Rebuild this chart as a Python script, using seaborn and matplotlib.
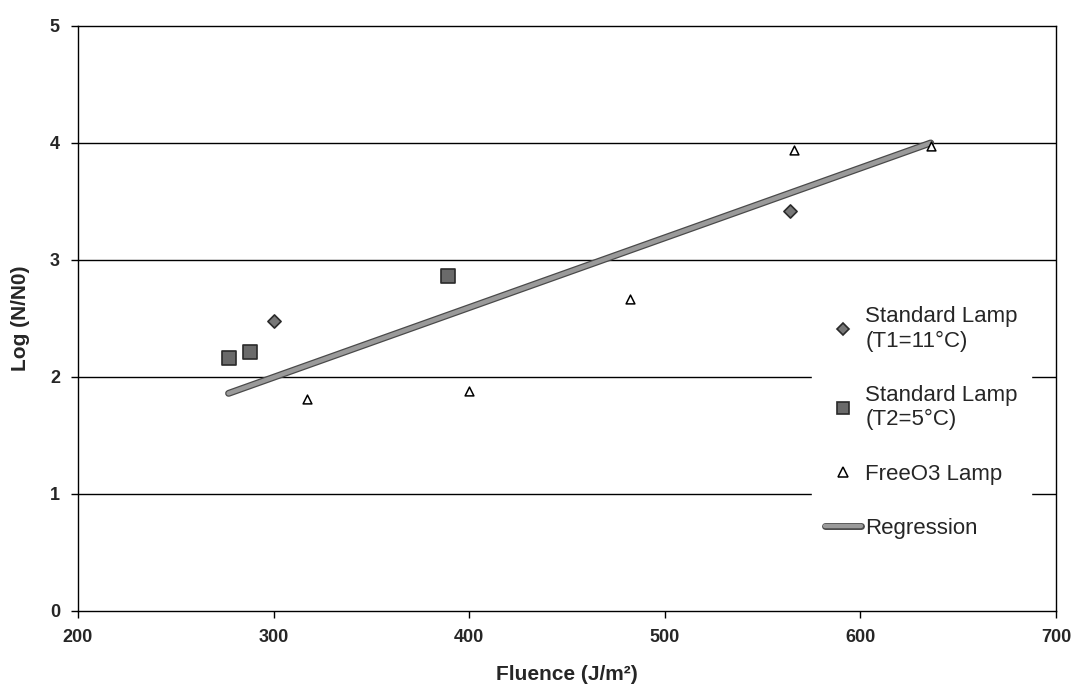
import matplotlib
matplotlib.use("Agg")
import matplotlib.pyplot as plt
import matplotlib.patheffects as pe
from matplotlib.lines import Line2D
import seaborn as sns
import pandas as pd

# Inactivation data: log reduction versus UV fluence
std_t1_fluence = [300, 564]
std_t1_logred = [2.48, 3.42]

std_t2_fluence = [277, 288, 389]
std_t2_logred = [2.16, 2.21, 2.86]

free_o3_fluence = [317, 400, 482, 566, 636]
free_o3_logred = [1.81, 1.88, 2.67, 3.94, 3.97]

# Fitted regression line (end points)
reg_fluence = [277, 636]
reg_logred = [1.86, 4.00]

x_ticks = [200, 300, 400, 500, 600, 700]
y_ticks = [0, 1, 2, 3, 4, 5]

sns.set_style("ticks")
plt.rcParams["font.family"] = ["Liberation Sans", "DejaVu Sans"]

fig = plt.figure(figsize=(10.77, 6.94), dpi=100)
ax = fig.add_axes([0.0724, 0.1196, 0.908, 0.843])

# horizontal gridlines
for yv in y_ticks[1:-1]:
    ax.axhline(yv, color="black", lw=1.0, zorder=1)

reg_effects = [pe.Stroke(linewidth=5, foreground="#4a4a4a"), pe.Normal()]
reg_df = pd.DataFrame({"x": reg_fluence, "y": reg_logred})
sns.lineplot(data=reg_df, x="x", y="y", ax=ax, color="#9a9a9a", lw=3.2,
             zorder=3, legend=False, path_effects=reg_effects)

sns.scatterplot(x=std_t1_fluence, y=std_t1_logred, ax=ax, marker="D", s=45,
                color="#777777", edgecolor="#2a2a2a", linewidth=1.2, zorder=4)
sns.scatterplot(x=std_t2_fluence, y=std_t2_logred, ax=ax, marker="s", s=90,
                color="#6a6a6a", edgecolor="#2a2a2a", linewidth=1.2, zorder=4)
sns.scatterplot(x=free_o3_fluence, y=free_o3_logred, ax=ax, marker="^", s=40,
                color="white", edgecolor="black", linewidth=1.1, zorder=4)

ax.set_xlim(200, 700)
ax.set_ylim(0, 5)
ax.set_xticks(x_ticks)
ax.set_yticks(y_ticks)
ax.tick_params(axis="both", direction="out", length=5, width=1, color="black",
               labelsize=13, pad=8)
for lab in ax.get_xticklabels() + ax.get_yticklabels():
    lab.set_fontweight("bold")
for sp in ax.spines.values():
    sp.set_color("black")
    sp.set_linewidth(1.0)

ax.set_xlabel("Fluence (J/m²)", fontsize=15, fontweight="bold", labelpad=14)
ax.set_ylabel("Log (N/N0)", fontsize=15, fontweight="bold", labelpad=14)

handles = [
    Line2D([], [], ls="none", marker="D", ms=6, mfc="#777777", mec="#2a2a2a", mew=1.2),
    Line2D([], [], ls="none", marker="s", ms=8, mfc="#6a6a6a", mec="#2a2a2a", mew=1.2),
    Line2D([], [], ls="none", marker="^", ms=6.5, mfc="white", mec="black", mew=1.1),
    Line2D([], [], color="#9a9a9a", lw=3.2, path_effects=reg_effects),
]
labels = ["Standard Lamp\n(T1=11°C)", "Standard Lamp\n(T2=5°C)", "FreeO3 Lamp", "Regression"]
leg = ax.legend(handles, labels, loc="center left", bbox_to_anchor=(0.7505, 0.322),
                fontsize=16, frameon=True, facecolor="white", edgecolor="white",
                framealpha=1, fancybox=False, handlelength=1.6, handletextpad=0.2,
                labelspacing=1.5, borderpad=0.6, borderaxespad=0)
leg.set_zorder(5)

fig.savefig("out.png", dpi=100)
